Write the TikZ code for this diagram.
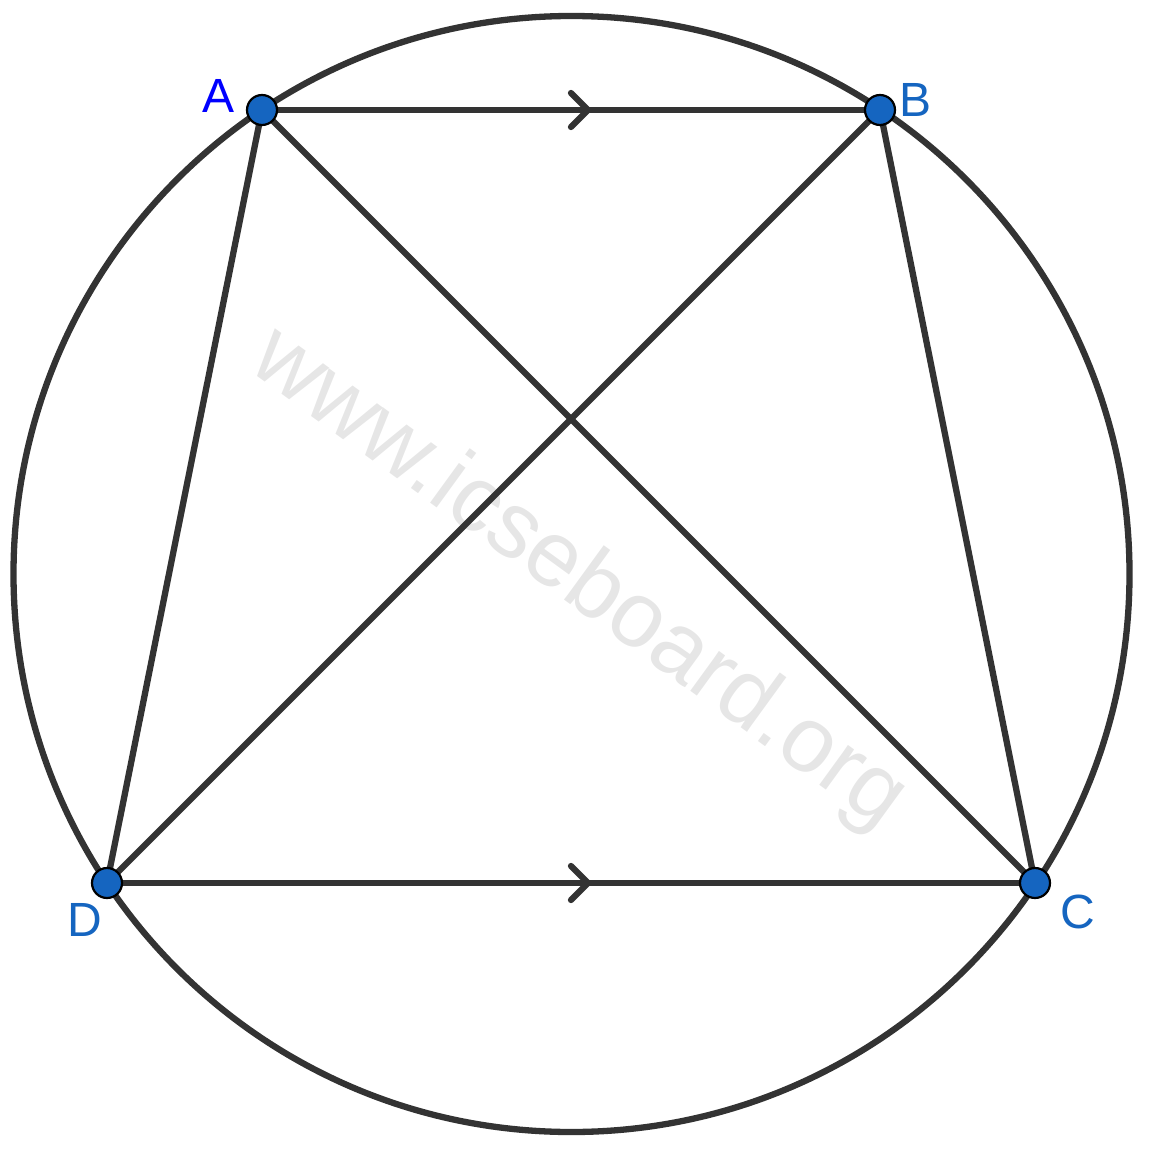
\documentclass[tikz,border=0pt]{standalone}
\usepackage{fontspec}
\setmainfont{Liberation Sans}
\definecolor{ln}{RGB}{51,51,51}
\definecolor{pt}{RGB}{21,101,192}
\definecolor{wm}{RGB}{230,230,230}
\begin{document}
\begin{tikzpicture}[x=1pt,y=-1pt,
  seg/.style={draw=ln,line width=6.3pt},
  chev/.style={draw=ln,line width=6.3pt,line cap=round,line join=round},
  dot/.style={circle,fill=pt,draw=black,line width=2.2pt,minimum size=30pt,inner sep=0pt},
  lab/.style={font=\fontsize{48}{48}\selectfont,text=pt}]
\useasboundingbox (0,0) rectangle (1148,1150);
\node[font=\fontsize{93}{93}\selectfont,text=wm,rotate=-36] (wmk) at (578,580) {www.icseboard.org};
\coordinate (O) at (571.5,574);
\draw[seg] (O) circle[radius=558];
\coordinate (a) at (262,110);
\coordinate (b) at (880,110);
\coordinate (c) at (1035,883);
\coordinate (d) at (107,883);
\draw[seg] (a) -- (b);
\draw[seg] (d) -- (c);
\draw[seg] (a) -- (d);
\draw[seg] (b) -- (c);
\draw[seg] (a) -- (c);
\draw[seg] (b) -- (d);
\coordinate (t1) at (588,110);
\coordinate (t2) at (588,883);
\draw[chev] ([shift={(-17,-17)}]t1) -- (t1) -- ([shift={(-17,17)}]t1);
\draw[chev] ([shift={(-17,-17)}]t2) -- (t2) -- ([shift={(-17,17)}]t2);
\node[dot] (A) at (a) {};
\node[dot] (B) at (b) {};
\node[dot] (C) at (c) {};
\node[dot] (D) at (d) {};
\node[lab,text=blue] (la) at (219,96) {A};
\node[lab] (lb) at (915,100) {B};
\node[lab] (lc) at (1078,912) {C};
\node[lab] (ld) at (85,920) {D};
\end{tikzpicture}
\end{document}
